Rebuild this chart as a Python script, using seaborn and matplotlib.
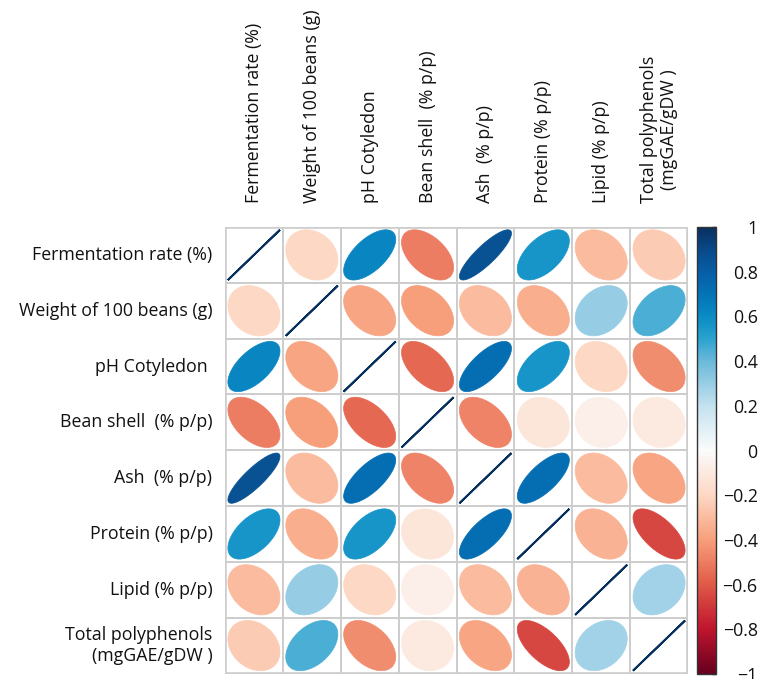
import numpy as np
import pandas as pd
import matplotlib
matplotlib.use("Agg")
import matplotlib.pyplot as plt
from matplotlib.colors import LinearSegmentedColormap, ListedColormap, Normalize
from matplotlib.cm import ScalarMappable
import seaborn as sns

variables = ["Fermentation rate (%)", "Weight of 100 beans (g)", "pH Cotyledon ",
             "Bean shell  (% p/p)", "Ash  (% p/p)", "Protein (% p/p)",
             "Lipid (% p/p)", "Total polyphenols\n(mgGAE/gDW )"]
top_labels = ["Fermentation rate (%)", "Weight of 100 beans (g)", "pH Cotyledon",
              "Bean shell  (% p/p)", "Ash  (% p/p)", "Protein (% p/p)",
              "Lipid (% p/p)", "Total polyphenols\n(mgGAE/gDW )"]

row_ferm = [1.00, -0.20, 0.62, -0.50, 0.86, 0.56, -0.30, -0.25]
row_weight = [-0.20, 1.00, -0.38, -0.40, -0.30, -0.35, 0.30, 0.45]
row_ph = [0.62, -0.38, 1.00, -0.56, 0.72, 0.56, -0.20, -0.45]
row_shell = [-0.50, -0.40, -0.56, 1.00, -0.48, -0.12, -0.07, -0.10]
row_ash = [0.86, -0.30, 0.72, -0.48, 1.00, 0.72, -0.30, -0.38]
row_protein = [0.56, -0.35, 0.56, -0.12, 0.72, 1.00, -0.33, -0.65]
row_lipid = [-0.30, 0.30, -0.20, -0.07, -0.30, -0.33, 1.00, 0.28]
row_poly = [-0.25, 0.45, -0.45, -0.10, -0.38, -0.65, 0.28, 1.00]

cbar_ticks = [-1, -0.8, -0.6, -0.4, -0.2, 0, 0.2, 0.4, 0.6, 0.8, 1]
cbar_ticklabels = ["\u22121", "\u22120.8", "\u22120.6", "\u22120.4", "\u22120.2", "0",
                   "0.2", "0.4", "0.6", "0.8", "1"]

corr = pd.DataFrame([row_ferm, row_weight, row_ph, row_shell, row_ash,
                     row_protein, row_lipid, row_poly],
                    index=variables, columns=top_labels)

cmap = LinearSegmentedColormap.from_list("corr", [
    (0.00, "#67001f"), (0.10, "#c0152d"), (0.20, "#e05a48"), (0.30, "#f79f7c"),
    (0.40, "#fdd8c4"), (0.50, "#fbfbfb"), (0.60, "#c4e2ef"), (0.70, "#6cb9da"),
    (0.75, "#2ba3cf"), (0.80, "#0a8cc4"), (0.85, "#0474b6"), (0.90, "#075ea6"),
    (0.95, "#084a8a"), (1.00, "#08305e")], N=256)
norm = Normalize(-1, 1)

sns.set_style("white")
plt.rcParams['font.family'] = ['Open Sans', 'DejaVu Sans']

fig = plt.figure(figsize=(7.59, 6.79), dpi=100)
ax = fig.add_axes([225 / 759, 1 - 673.5 / 679, 463 / 759, 446.5 / 679])

sns.heatmap(corr, ax=ax, cmap=ListedColormap(["white"]), cbar=False,
            linewidths=1.4, linecolor="#cdcdcd", square=False)
ax.axhline(0, color="#cdcdcd", lw=2.6)
ax.axhline(len(variables), color="#cdcdcd", lw=2.6)
ax.axvline(0, color="#cdcdcd", lw=2.6)
ax.axvline(len(variables), color="#cdcdcd", lw=2.6)

t = np.linspace(0, 2 * np.pi, 200)
scale = 0.45
vals = corr.values
for i in range(vals.shape[0]):
    for j in range(vals.shape[1]):
        r = vals[i, j]
        d = np.arccos(np.clip(r, -1, 1))
        ex = np.cos(t + d / 2)
        ey = np.cos(t - d / 2)
        col = cmap(norm(r))
        ax.fill(j + 0.5 + scale * ex, i + 0.5 - scale * ey,
                facecolor=col, edgecolor=col, lw=1.4 if i == j else 0.5)

fs = 12.8
ax.xaxis.tick_top()
ax.set_xticks(np.arange(len(top_labels)) + 0.5)
ax.set_xticklabels(top_labels, rotation=90, fontsize=fs, color="#111111",
                   ha="center", va="bottom", linespacing=1.1)
ax.set_yticks(np.arange(len(variables)) + 0.5)
ax.set_yticklabels(variables, rotation=0, fontsize=fs, color="#111111",
                   ha="right", va="center", linespacing=1.25)
ax.tick_params(axis="x", length=0, pad=17)
ax.tick_params(axis="y", length=0, pad=9)
ax.set_xlabel("")
ax.set_ylabel("")

cax = fig.add_axes([697 / 759, 1 - 674 / 679, 19 / 759, 447 / 679])
sm = ScalarMappable(norm=norm, cmap=cmap)
cb = fig.colorbar(sm, cax=cax)
cb.set_ticks(cbar_ticks)
cb.set_ticklabels(cbar_ticklabels)
cb.outline.set_edgecolor("#333333")
cb.outline.set_linewidth(1.0)
cax.tick_params(axis="y", direction="in", length=3, width=1, colors="#222222",
                labelsize=fs, pad=30)
for lab in cax.get_yticklabels():
    lab.set_ha("right")
    lab.set_color("#111111")

fig.savefig("out.png", dpi=100, facecolor="white")
